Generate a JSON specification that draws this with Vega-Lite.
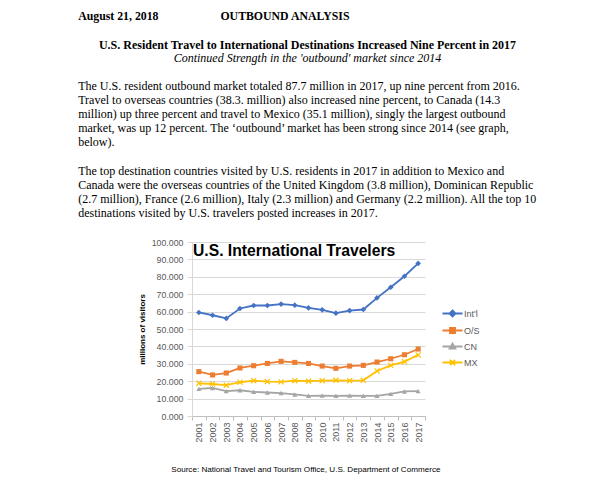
{
  "$schema": "https://vega.github.io/schema/vega-lite/v6.json",
  "background": "white",
  "padding": {"left": 78, "top": 11, "right": 5, "bottom": 5},
  "config": {"view": {"stroke": null}, "font": "Liberation Sans"},
  "title": {
    "text": "August 21, 2018\u00a0\u00a0\u00a0\u00a0\u00a0\u00a0\u00a0\u00a0\u00a0\u00a0\u00a0\u00a0\u00a0\u00a0\u00a0\u00a0\u00a0\u00a0\u00a0\u00a0\u00a0OUTBOUND ANALYSIS",
    "anchor": "start", "font": "Liberation Serif", "fontSize": 11.8, "fontWeight": "bold", "color": "black", "offset": 16
  },
  "vconcat": [
    {
      "title": {
        "text": "U.S. Resident Travel to International Destinations Increased Nine Percent in 2017",
        "subtitle": "Continued Strength in the 'outbound' market since 2014",
        "anchor": "middle", "dx": 0,
        "font": "Liberation Serif", "fontSize": 12, "fontWeight": "bold", "color": "black",
        "subtitleFont": "Liberation Serif", "subtitleFontSize": 12, "subtitleFontStyle": "italic", "subtitleColor": "black", "subtitlePadding": 1,
        "offset": 15
      },
      "vconcat": [
        {
          "title": {
            "text": [
              "The U.S. resident outbound market totaled 87.7 million in 2017, up nine percent from 2016.",
              "Travel to overseas countries (38.3. million) also increased nine percent, to Canada (14.3",
              "million) up three percent and travel to Mexico (35.1 million), singly the largest outbound",
              "market, was up 12 percent. The ‘outbound’ market has been strong since 2014 (see graph,",
              "below)."
            ],
            "anchor": "start", "dx": 0,
            "font": "Liberation Serif", "fontSize": 12, "fontWeight": "normal", "color": "black", "lineHeight": 14,
            "offset": 16
          },
          "vconcat": [
            {
              "title": {
                "text": [
                  "The top destination countries visited by U.S. residents in 2017 in addition to Mexico and",
                  "Canada were the overseas countries of the United Kingdom (3.8 million), Dominican Republic",
                  "(2.7 million), France (2.6 million), Italy (2.3 million) and Germany (2.2 million). All the top 10",
                  "destinations visited by U.S. travelers posted increases in 2017."
                ],
                "anchor": "start", "dx": -60,
                "font": "Liberation Serif", "fontSize": 12, "fontWeight": "normal", "color": "black", "lineHeight": 14,
                "offset": 18
              },
              "vconcat": [
                {
                  "title": {
                    "text": "Source: National Travel and Tourism Office, U.S. Department of Commerce",
                    "orient": "bottom", "anchor": "middle", "dx": 24,
                    "font": "Liberation Sans", "fontSize": 8.1, "fontWeight": "normal", "color": "black", "offset": 24
                  },
                  "vconcat": [
                    {
                      "width": 233,
                      "height": 174,
                      "title": {
                        "text": "U.S. International Travelers",
                        "anchor": "start", "frame": "group", "orient": "top", "dx": 1, "offset": -21.5,
                        "font": "Liberation Sans", "fontSize": 15.7, "fontWeight": "bold", "color": "black"
                      },
                      "data": {
                        "values": [
                          {"year": 2001, "series": "Int'l", "value": 59.5},
                          {"year": 2002, "series": "Int'l", "value": 57.9},
                          {"year": 2003, "series": "Int'l", "value": 56.1},
                          {"year": 2004, "series": "Int'l", "value": 61.8},
                          {"year": 2005, "series": "Int'l", "value": 63.5},
                          {"year": 2006, "series": "Int'l", "value": 63.5},
                          {"year": 2007, "series": "Int'l", "value": 64.3},
                          {"year": 2008, "series": "Int'l", "value": 63.7},
                          {"year": 2009, "series": "Int'l", "value": 62.1},
                          {"year": 2010, "series": "Int'l", "value": 61.0},
                          {"year": 2011, "series": "Int'l", "value": 59.1},
                          {"year": 2012, "series": "Int'l", "value": 60.6},
                          {"year": 2013, "series": "Int'l", "value": 61.2},
                          {"year": 2014, "series": "Int'l", "value": 67.9},
                          {"year": 2015, "series": "Int'l", "value": 74.0},
                          {"year": 2016, "series": "Int'l", "value": 80.3},
                          {"year": 2017, "series": "Int'l", "value": 87.7},
                          {"year": 2001, "series": "O/S", "value": 25.5},
                          {"year": 2002, "series": "O/S", "value": 23.6},
                          {"year": 2003, "series": "O/S", "value": 24.7},
                          {"year": 2004, "series": "O/S", "value": 27.6},
                          {"year": 2005, "series": "O/S", "value": 28.9},
                          {"year": 2006, "series": "O/S", "value": 30.2},
                          {"year": 2007, "series": "O/S", "value": 31.4},
                          {"year": 2008, "series": "O/S", "value": 30.8},
                          {"year": 2009, "series": "O/S", "value": 30.2},
                          {"year": 2010, "series": "O/S", "value": 28.7},
                          {"year": 2011, "series": "O/S", "value": 27.4},
                          {"year": 2012, "series": "O/S", "value": 28.7},
                          {"year": 2013, "series": "O/S", "value": 29.1},
                          {"year": 2014, "series": "O/S", "value": 31.0},
                          {"year": 2015, "series": "O/S", "value": 32.9},
                          {"year": 2016, "series": "O/S", "value": 35.2},
                          {"year": 2017, "series": "O/S", "value": 38.5},
                          {"year": 2001, "series": "CN", "value": 15.6},
                          {"year": 2002, "series": "CN", "value": 16.1},
                          {"year": 2003, "series": "CN", "value": 14.3},
                          {"year": 2004, "series": "CN", "value": 14.8},
                          {"year": 2005, "series": "CN", "value": 13.9},
                          {"year": 2006, "series": "CN", "value": 13.5},
                          {"year": 2007, "series": "CN", "value": 13.2},
                          {"year": 2008, "series": "CN", "value": 12.4},
                          {"year": 2009, "series": "CN", "value": 11.6},
                          {"year": 2010, "series": "CN", "value": 11.7},
                          {"year": 2011, "series": "CN", "value": 11.6},
                          {"year": 2012, "series": "CN", "value": 11.7},
                          {"year": 2013, "series": "CN", "value": 11.6},
                          {"year": 2014, "series": "CN", "value": 11.6},
                          {"year": 2015, "series": "CN", "value": 12.7},
                          {"year": 2016, "series": "CN", "value": 14.1},
                          {"year": 2017, "series": "CN", "value": 14.3},
                          {"year": 2001, "series": "MX", "value": 18.8},
                          {"year": 2002, "series": "MX", "value": 18.4},
                          {"year": 2003, "series": "MX", "value": 17.7},
                          {"year": 2004, "series": "MX", "value": 19.4},
                          {"year": 2005, "series": "MX", "value": 20.3},
                          {"year": 2006, "series": "MX", "value": 19.8},
                          {"year": 2007, "series": "MX", "value": 19.6},
                          {"year": 2008, "series": "MX", "value": 20.3},
                          {"year": 2009, "series": "MX", "value": 20.0},
                          {"year": 2010, "series": "MX", "value": 20.3},
                          {"year": 2011, "series": "MX", "value": 20.5},
                          {"year": 2012, "series": "MX", "value": 20.3},
                          {"year": 2013, "series": "MX", "value": 20.5},
                          {"year": 2014, "series": "MX", "value": 25.9},
                          {"year": 2015, "series": "MX", "value": 29.1},
                          {"year": 2016, "series": "MX", "value": 31.2},
                          {"year": 2017, "series": "MX", "value": 35.1}
                        ]
                      },
                      "encoding": {
                        "x": {
                          "field": "year", "type": "ordinal",
                          "scale": {"type": "band", "paddingInner": 0, "paddingOuter": 0},
                          "axis": {
                            "title": null, "labelAngle": -90, "labelFontSize": 9, "labelColor": "#595959", "labelPadding": 2,
                            "tickBand": "extent", "tickSize": 4, "tickColor": "#bfbfbf", "domainColor": "#bfbfbf", "grid": false
                          }
                        },
                        "y": {
                          "field": "value", "type": "quantitative",
                          "scale": {"domain": [0, 100], "nice": false},
                          "axis": {
                            "title": "millions of visitors", "titleFontSize": 8, "titleFontWeight": "bold", "titleColor": "black", "titlePadding": 5,
                            "values": [0, 10, 20, 30, 40, 50, 60, 70, 80, 90, 100], "format": ".3f",
                            "labelFontSize": 8.8, "labelColor": "#595959", "labelPadding": 4,
                            "gridColor": "#d9d9d9", "domainColor": "#d9d9d9", "tickColor": "#d9d9d9", "tickSize": 5
                          }
                        },
                        "color": {
                          "field": "series", "type": "nominal",
                          "scale": {"domain": ["Int'l", "O/S", "CN", "MX"], "range": ["#4472C4", "#ED7D31", "#A5A5A5", "#FFC000"]},
                          "legend": {
                            "title": null, "orient": "none", "legendX": 251, "legendY": 62,
                            "symbolType": "stroke", "symbolSize": 289, "symbolStrokeWidth": 1.8, "rowPadding": 0,
                            "labelFontSize": 9, "labelColor": "#595959", "labelOffset": 2,
                            "encode": {
                              "symbols": {
                                "update": {
                                  "shape": {"signal": "['M-1.18,0H1.18M0,-0.36L0.36,0L0,0.36L-0.36,0Z','M-1.18,0H1.18M-0.3,-0.3H0.3V0.3H-0.3Z','M-1.18,0H1.18M0,-0.34L0.34,0.26H-0.34Z','M-1.18,0H1.18M-0.3,-0.3L0.3,0.3M-0.3,0.3L0.3,-0.3'][indexof(domain('color'), datum.value)]"},
                                  "fill": {"signal": "scale('color', datum.value)"},
                                  "stroke": {"signal": "scale('color', datum.value)"}
                                }
                              }
                            }
                          }
                        }
                      },
                      "layer": [
                        {"mark": {"type": "line", "strokeWidth": 1.8}},
                        {
                          "transform": [{"filter": "datum.series === \"Int'l\""}],
                          "mark": {"type": "point", "shape": "diamond", "filled": true, "size": 32, "opacity": 1}
                        },
                        {
                          "transform": [{"filter": "datum.series === 'O/S'"}],
                          "mark": {"type": "point", "shape": "square", "filled": true, "size": 26, "opacity": 1}
                        },
                        {
                          "transform": [{"filter": "datum.series === 'CN'"}],
                          "mark": {"type": "point", "shape": "triangle-up", "filled": true, "size": 26, "opacity": 1}
                        },
                        {
                          "transform": [{"filter": "datum.series === 'MX'"}],
                          "mark": {"type": "point", "shape": "M-1,-1L1,1M-1,1L1,-1", "filled": false, "size": 26, "strokeWidth": 1.2, "opacity": 1}
                        }
                      ]
                    }
                  ]
                }
              ]
            }
          ]
        }
      ]
    }
  ]
}
